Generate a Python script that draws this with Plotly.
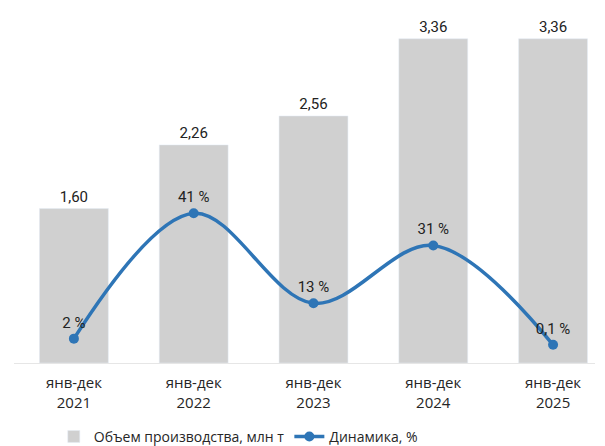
import plotly.graph_objects as go

categories = ["янв-дек<br>2021", "янв-дек<br>2022", "янв-дек<br>2023", "янв-дек<br>2024", "янв-дек<br>2025"]
volume = [1.60, 2.26, 2.56, 3.36, 3.36]
dynamics = [2, 41, 13, 31, 0.1]

vol_text = [f"{v:.2f}".replace(".", ",") for v in volume]
dyn_text = [(f"{d:g}".replace(".", ",") + " %") for d in dynamics]

x = list(range(len(categories)))

fig = go.Figure()
fig.add_trace(go.Bar(
    x=x, y=volume, name="Объем производства, млн т",
    marker=dict(color="#D0D0D0"), width=0.575,
    text=vol_text, textposition="outside", cliponaxis=False,
    textfont=dict(family="Roboto", size=15, color="#222222"),
))
fig.add_trace(go.Scatter(
    x=x, y=dynamics, name="Динамика, %", yaxis="y2",
    mode="lines+markers+text",
    line=dict(color="#2E75B6", width=3.5, shape="spline", smoothing=1.0),
    marker=dict(color="#2E75B6", size=10),
    text=dyn_text, textposition="top center", cliponaxis=False,
    textfont=dict(family="Roboto", size=15, color="#222222"),
))

fig.update_layout(
    width=597, height=438,
    margin=dict(l=5.5, r=10, t=0, b=83, autoexpand=False),
    paper_bgcolor="white", plot_bgcolor="white",
    showlegend=True,
    xaxis=dict(
        range=[-0.5, 4.35], tickvals=x, ticktext=categories,
        showgrid=False, showline=True, linecolor="#E6E6E6", linewidth=1,
        ticks="", tickfont=dict(family="Open Sans", size=15, color="#262626"),
        ticklabelstandoff=6,
        zeroline=False, automargin=False,
    ),
    yaxis=dict(range=[0, 3.679], visible=False, showgrid=False, automargin=False),
    yaxis2=dict(range=[-5.57, 104.85], overlaying="y", visible=False, showgrid=False, automargin=False),
    legend=dict(
        orientation="h", x=0.386, xanchor="center", y=-0.208, yanchor="middle",
        font=dict(family="Open Sans", size=14, color="#262626"),
    ),
)

fig.write_html("out.html")
